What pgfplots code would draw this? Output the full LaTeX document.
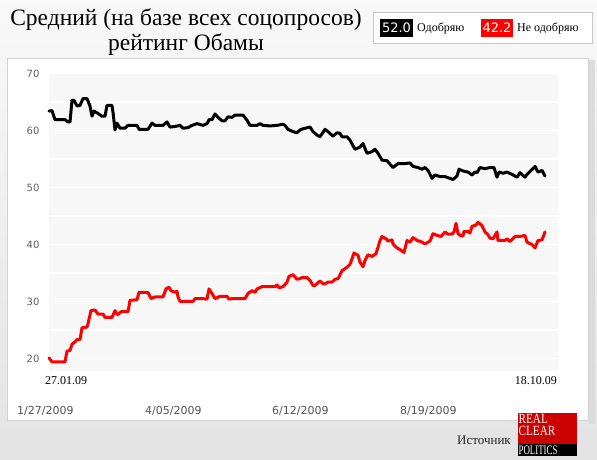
\documentclass[border=0pt]{standalone}
\usepackage{pgfplots}
\pgfplotsset{compat=1.18}
\usepackage{fontspec}
\setmainfont{Liberation Serif}
\newfontfamily\dejavu{DejaVu Sans}
\definecolor{rcpred}{HTML}{CC0000}
\begin{document}
\begin{tikzpicture}[x=1pt,y=1pt]
\shade[top color=gray!5, bottom color=gray!22] (0,0) rectangle (597,460);
\fill[gray!28] (589,36) rectangle (595,400);
\draw[gray!35, fill=white] (7,40) rectangle (588,402);
\begin{axis}[at={(49pt,89pt)}, anchor=south west, scale only axis,
  width=509pt, height=297.5pt,
  xmin=49, xmax=558, ymin=17.8, ymax=70,
  axis line style={draw=none},
  axis background/.style={fill=gray!6},
  ytick={20,30,...,70}, minor ytick={25,35,...,65}, xtick=\empty,
  ymajorgrids, yminorgrids,
  major grid style={white, line width=1.2pt},
  minor grid style={white, line width=1.2pt},
  major tick length=0pt, minor tick length=0pt,
  yticklabel style={font=\dejavu\fontsize{10}{12}\selectfont, text=gray!75!black, xshift=-6pt},
  /pgf/number format/assume math mode=true,
  clip=false]
\addplot[black, line width=3pt, line join=round, line cap=round] coordinates {
(49,63.4)(52,63.5)(55,61.9)(65,61.9)(68,61.5)(70,61.5)(72,65.3)(74,65.3)(77,64.3)(80,64.4)
(83,65.6)(87,65.6)(90,64.3)(92,62.5)(94,63.4)(98,63.0)(102,62.5)(105,62.5)(107,64.4)(112,64.4)
(113,63.2)(115,60.1)(117,61.3)(120,60.4)(125,60.4)(128,60.9)(137,60.9)(139,60.2)(148,60.2)(152,61.3)
(155,60.9)(163,60.9)(167,61.5)(170,60.6)(175,60.7)(180,60.9)(183,60.4)(188,60.5)(192,60.9)(197,61.2)
(203,60.9)(207,61.2)(209,61.9)(212,61.9)(215,62.9)(218,62.3)(222,61.7)(225,61.7)(228,62.4)(232,62.3)
(235,62.7)(243,62.7)(247,61.8)(250,60.9)(257,60.9)(260,61.2)(263,60.9)(270,60.8)(277,60.9)(283,61.1)
(285,60.9)(288,60.2)(293,59.8)(297,59.6)(300,60.1)(303,60.3)(310,60.6)(313,59.8)(317,59.2)(320,58.9)
(325,60.2)(328,59.8)(333,59.0)(337,59.6)(340,59.5)(342,58.9)(347,58.9)(350,58.3)(355,56.7)(360,57.1)
(363,57.7)(367,56.0)(372,56.3)(375,56.7)(378,56.0)(382,54.8)(387,54.7)(390,54.1)(393,53.5)(398,54.2)
(405,54.2)(410,54.3)(413,53.7)(418,53.5)(422,53.2)(425,53.5)(428,53.0)(432,51.6)(435,52.2)(440,51.9)
(445,51.9)(450,51.6)(453,51.4)(457,52.0)(459,53.2)(463,52.9)(468,52.7)(472,52.2)(475,52.7)(477,52.6)
(480,53.5)(485,53.3)(490,53.5)(494,53.5)(497,51.8)(499,52.7)(503,52.5)(507,52.7)(512,52.3)(517,51.8)
(520,52.6)(525,51.8)(527,52.3)(531,53.0)(535,53.7)(538,52.7)(542,53.0)(545,52.0)
};
\addplot[red, line width=3pt, line join=round, line cap=round] coordinates {
(49,20.1)(52,19.4)(65,19.4)(67,21.3)(70,21.4)(72,22.5)(75,22.9)(77,23.3)(80,23.3)(82,25.4)
(87,25.5)(88,26.1)(91,28.4)(95,28.5)(98,27.8)(103,27.8)(105,27.2)(112,27.2)(115,28.4)(117,27.8)
(118,27.7)(121,28.2)(128,28.2)(130,30.2)(137,30.3)(139,31.6)(148,31.6)(151,30.5)(155,30.8)(163,30.8)
(166,32.2)(169,32.5)(171,31.9)(175,31.6)(177,31.8)(178,30.8)(180,30.0)(182,30.0)(193,30.0)(195,30.5)
(203,30.5)(207,30.4)(209,32.2)(212,31.4)(215,30.5)(220,30.9)(227,30.9)(229,30.4)(232,30.5)(245,30.5)
(248,31.4)(252,31.9)(255,31.6)(257,32.2)(262,32.6)(275,32.6)(277,32.9)(279,32.4)(283,32.6)(287,33.4)
(289,34.4)(293,34.7)(297,33.9)(300,34.0)(302,34.2)(307,34.2)(310,33.7)(313,32.8)(315,32.8)(320,33.6)
(323,33.1)(325,33.1)(328,33.4)(332,33.4)(335,33.9)(338,34.0)(342,35.4)(347,36.0)(350,36.5)(354,38.5)
(358,38.1)(360,36.9)(363,36.1)(365,37.2)(368,38.2)(372,37.9)(376,38.4)(378,39.5)(380,40.7)(382,41.4)
(386,41.0)(388,40.6)(392,40.8)(393,40.1)(397,39.4)(400,39.1)(404,38.6)(407,40.7)(410,40.4)(413,41.2)
(418,40.6)(420,40.6)(425,40.1)(430,40.6)(433,41.9)(437,41.6)(441,41.4)(445,42.2)(448,41.8)(452,41.8)
(454,42.2)(456,43.7)(458,41.9)(461,41.5)(463,41.5)(464,42.3)(468,42.3)(470,42.0)(472,43.2)(476,43.4)
(478,43.9)(482,43.3)(485,42.2)(488,41.7)(490,41.1)(493,41.0)(497,42.2)(498,40.7)(505,40.7)(507,41.0)
(510,40.5)(515,41.4)(520,41.4)(525,41.6)(527,40.4)(532,40.0)(535,39.4)(538,40.7)(542,40.8)(545,42.2)
};
\end{axis}
% date labels
\node[anchor=west, font=\fontsize{12}{13}\selectfont, inner sep=0] at (45,79) {27.01.09};
\node[anchor=east, font=\fontsize{12}{13}\selectfont, inner sep=0] at (557,79) {18.10.09};
\foreach \px/\t in {17/1\slash 27\slash 2009, 145/4\slash 05\slash 2009, 272/6\slash 12\slash 2009, 400/8\slash 19\slash 2009}
  \node[anchor=west, font=\dejavu\fontsize{11}{12}\selectfont, text=gray!65!black, inner sep=0] at (\px,49) {\t};
% title
\node[align=center, font=\fontsize{23.5}{25}\selectfont, inner sep=0] at (186,428) {Средний (на базе всех соцопросов)\\рейтинг Обамы};
% value legend
\draw[gray!45, fill=white] (373,417) rectangle (592,448);
\fill[black] (380,423) rectangle (413,441);
\node[font=\dejavu\fontsize{13}{15}\selectfont, text=white, inner sep=0] at (396.5,432) {52.0};
\node[anchor=west, font=\fontsize{12}{14}\selectfont, inner sep=0] at (417,432) {Одобряю};
\fill[red] (481,423) rectangle (513,441);
\node[font=\dejavu\fontsize{13}{15}\selectfont, text=white, inner sep=0] at (497,432) {42.2};
\node[anchor=west, font=\fontsize{12}{14}\selectfont, inner sep=0] at (517,432) {Не одобряю};
% source
\node[anchor=east, font=\fontsize{13}{15}\selectfont, text=black!85, inner sep=0] at (511,20) {Источник};
\fill[rcpred] (518,16) rectangle (577,47);
\fill[black] (518,4) rectangle (577,16);
\node[anchor=north west, align=left, font=\fontsize{14}{12.5}\selectfont, text=white, inner sep=0, xscale=0.8] at (518.5,46) {REAL\\CLEAR};
\node[anchor=west, font=\fontsize{13}{13}\selectfont, text=white, inner sep=0, xscale=0.68] at (518.5,10) {POLITICS};
\pgfresetboundingbox
\path[use as bounding box] (0,0) rectangle (597,460);
\end{tikzpicture}
\end{document}
